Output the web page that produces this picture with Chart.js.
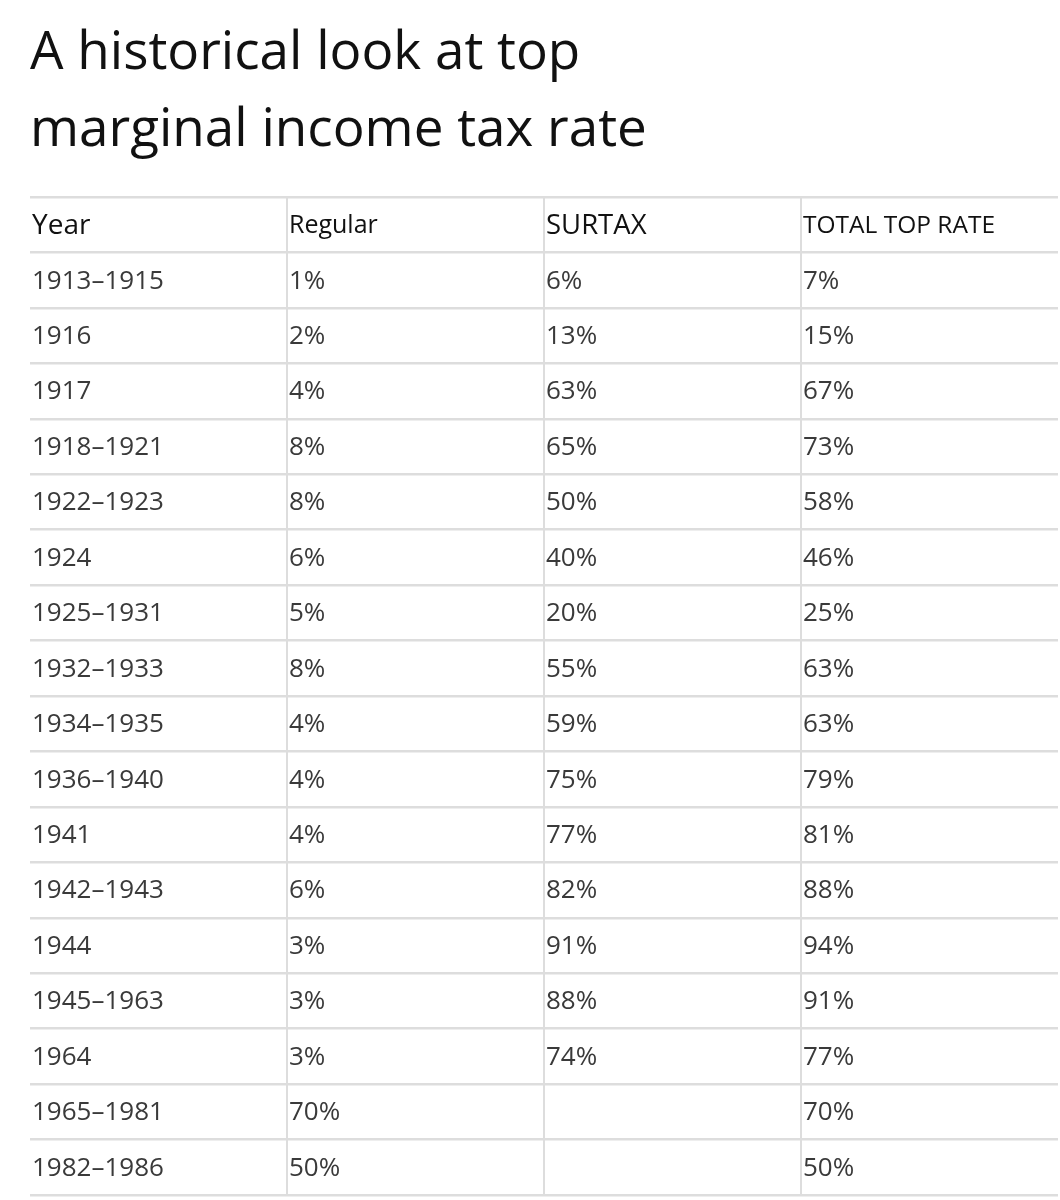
<!DOCTYPE html>
<html>
<head>
<meta charset="utf-8">
<script src="https://cdn.jsdelivr.net/npm/chart.js@4.4.1/dist/chart.umd.min.js"></script>
<style>
  html, body { margin: 0; padding: 0; background: #ffffff; }
  #wrap { width: 1060px; height: 1200px; }
</style>
</head>
<body>
<div id="wrap"><canvas id="c" width="1060" height="1200"></canvas></div>
<script>
// ---- data ----
const titleLines = ['A historical look at top', 'marginal income tax rate'];
const columns = ['Year', 'Regular', 'SURTAX', 'TOTAL TOP RATE'];
const years = ['1913–1915', '1916', '1917', '1918–1921', '1922–1923', '1924', '1925–1931',
  '1932–1933', '1934–1935', '1936–1940', '1941', '1942–1943', '1944', '1945–1963', '1964',
  '1965–1981', '1982–1986'];
const regular  = [1, 2, 4, 8, 8, 6, 5, 8, 4, 4, 4, 6, 3, 3, 3, 70, 50];
const surtax   = [6, 13, 63, 65, 50, 40, 20, 55, 59, 75, 77, 82, 91, 88, 74, null, null];
const totalTop = [7, 15, 67, 73, 58, 46, 25, 63, 63, 79, 81, 88, 94, 91, 77, 70, 50];

// ---- build ----
const FONT = '"Open Sans", "Noto Sans", sans-serif';
const HEADER_KEY = 'header';
const rowKeys = [HEADER_KEY].concat(years);
const pct = v => (v === null || v === undefined) ? '' : v + '%';
const columnTexts = [
  years.slice(),
  regular.map(pct),
  surtax.map(pct),
  totalTop.map(pct)
];
const headerSizes = [28, 25, 27.5, 24.5];

const datasets = columns.map((name, c) => ({
  label: name,
  headerSize: headerSizes[c],
  texts: [name].concat(columnTexts[c]),
  data: rowKeys.map(k => ({ x: c, y: k })),
  pointRadius: 0,
  pointHoverRadius: 0,
  showLine: false
}));

const cellText = {
  id: 'cellText',
  afterDatasetsDraw(chart) {
    const ctx = chart.ctx;
    ctx.save();
    ctx.textAlign = 'left';
    ctx.textBaseline = 'middle';
    chart.data.datasets.forEach((ds, i) => {
      const meta = chart.getDatasetMeta(i);
      meta.data.forEach((pt, j) => {
        const t = ds.texts[j];
        if (!t) return;
        if (j === 0) {
          ctx.fillStyle = '#111111';
          ctx.font = ds.headerSize + 'px ' + FONT;
        } else {
          ctx.fillStyle = '#3a3a3a';
          ctx.font = '26px ' + FONT;
        }
        ctx.fillText(t, pt.x + 2, pt.y + 1);
      });
    });
    ctx.restore();
  }
};

new Chart(document.getElementById('c'), {
  type: 'scatter',
  data: { labels: rowKeys, datasets },
  options: {
    responsive: false,
    animation: false,
    events: [],
    layout: { padding: { left: 30, right: 2, top: 0, bottom: 5 } },
    plugins: {
      legend: { display: false },
      tooltip: { enabled: false },
      title: {
        display: true,
        text: titleLines,
        align: 'start',
        color: '#111111',
        font: { family: FONT, size: 53, weight: 'normal', lineHeight: 1.453 },
        padding: { top: 15, bottom: 28 }
      }
    },
    scales: {
      x: {
        type: 'linear',
        min: 0,
        max: 4,
        position: 'bottom',
        afterBuildTicks: s => { s.ticks = [0, 1, 2, 3, 4].map(v => ({ value: v })); },
        ticks: { display: false },
        border: { display: false },
        grid: {
          drawTicks: false,
          lineWidth: 2,
          color: c => (c.tick && c.tick.value > 0 && c.tick.value < 4) ? '#dddddd' : 'rgba(0,0,0,0)'
        }
      },
      y: {
        type: 'category',
        labels: rowKeys,
        offset: true,
        ticks: { display: false },
        border: { display: false },
        grid: { offset: true, drawTicks: false, lineWidth: 2.5, color: '#dddddd' }
      }
    }
  },
  plugins: [cellText]
});
</script>
</body>
</html>
